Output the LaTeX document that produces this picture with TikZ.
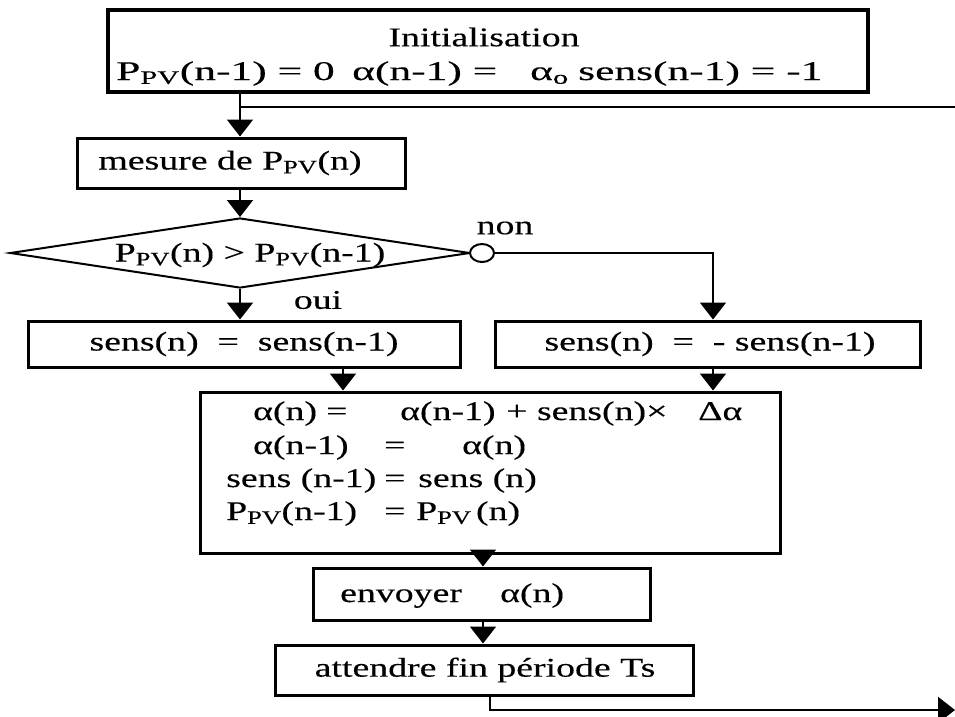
\documentclass[tikz,border=0pt]{standalone}
\usepackage{fontspec}
\setmainfont{Liberation Serif}[FakeStretch=1.4,FakeBold=0.3]
\usetikzlibrary{shapes.geometric,arrows.meta}
\newcommand\Ppv{P\textsubscript{PV}}
\begin{document}
\begin{tikzpicture}[x=1pt,y=-1pt,line join=miter,
  box/.style={draw,line width=3pt,inner sep=0pt},
  conn/.style={line width=2pt},
  arr/.style={conn,-{Triangle[width=26pt,length=17pt]}},
  txt/.style={font=\fontsize{27}{32}\selectfont,inner sep=0pt,anchor=base west},
  ctxt/.style={font=\fontsize{27}{32}\selectfont,inner sep=0pt}]
\useasboundingbox (0,0) rectangle (955,716);
% boxes
\node[box,line width=4pt,minimum width=760,minimum height=82] (init) at (488,51) {};
\node[box,minimum width=328,minimum height=50] (mesure) at (241,163) {};
\node[diamond,draw,conn,minimum width=460,minimum height=70,inner sep=0pt] (test) at (240,253) {};
\node[ellipse,draw,conn,fill=white,minimum width=24,minimum height=18,inner sep=0pt] (nonc) at (482,253) {};
\node[box,minimum width=432,minimum height=46] (left) at (244,344) {};
\node[box,minimum width=425,minimum height=46] (right) at (707.5,344) {};
\node[box,minimum width=580,minimum height=161] (big) at (490,472.5) {};
\node[box,minimum width=337,minimum height=52] (env) at (481.5,594) {};
\node[box,minimum width=418,minimum height=50] (att) at (484,670) {};
% texts
\node[ctxt] (t0) at (484,37) {Initialisation};
\node[txt] (t1) at (116,80) {\scalebox{1.15}[1]{\Ppv(n-1) = 0}};
\node[txt] (t2) at (352,80) {\scalebox{1.15}[1]{α(n-1) =}};
\node[txt] (t3) at (530,80) {\scalebox{1.15}[1]{α\textsubscript{o}}};
\node[txt] (t4) at (578,80) {\scalebox{1.15}[1]{sens(n-1) = -1}};
\node[ctxt] (tm) at (230,163) {mesure de \Ppv(n)};
\node[ctxt] (td) at (250,255) {\Ppv(n) > \Ppv(n-1)};
\node[ctxt] (tnon) at (505,228) {non};
\node[ctxt] (toui) at (318,300) {oui};
\node[ctxt] (tl) at (244,344) {sens(n)\ \ =\ \ sens(n-1)};
\node[ctxt] (tr) at (710,344) {sens(n)\ \ =\ \ - sens(n-1)};
\node[txt] (b1a) at (253,420) {α(n)};
\node[txt] (b1e) at (326,420) {=};
\node[txt] (b1b) at (400,420) {α(n-1)};
\node[txt] (b1c) at (506,420) {+ sens(n)×};
\node[txt] (b1d) at (698,420) {Δα};
\node[txt] (b2a) at (253,454) {α(n-1)};
\node[txt] (b2b) at (384,454) {=};
\node[txt] (b2c) at (462,454) {α(n)};
\node[txt] (b3a) at (226,487) {sens (n-1)};
\node[txt] (b3b) at (384,487) {=};
\node[txt] (b3c) at (418,487) {sens (n)};
\node[txt] (b4a) at (226,520) {\Ppv(n-1)};
\node[txt] (b4b) at (384,520) {=};
\node[txt] (b4c) at (416,520) {\Ppv\,(n)};
\node[txt] (te1) at (340,602) {envoyer};
\node[txt] (te2) at (500,602) {α(n)};
\node[ctxt] (ta) at (485,670) {attendre fin période Ts};
% connectors
\coordinate (xa) at (240,0);
\coordinate (xl) at (343,0);
\coordinate (xr) at (713,0);
\coordinate (xm) at (483,0);
\coordinate (xb) at (490,0);
\coordinate (loopT) at (955,107);
\coordinate (loopB) at (955,710);
\draw[arr] (init.south -| xa) -- (mesure.north -| xa);
\draw[conn] (xa |- loopT) -- (loopT);
\draw[arr] (mesure.south -| xa) -- (test.north);
\draw[arr] (test.south) -- (left.north -| test.south);
\draw[arr] (nonc.east) -| (right.north -| xr);
\draw[arr] (left.south -| xl) -- (big.north -| xl);
\draw[arr] (right.south -| xr) -- (big.north -| xr);
\draw[arr] (big.south -| xm) -- (env.north -| xm);
\draw[arr] (env.south -| xm) -- (att.north -| xm);
\draw[arr] (att.south -| xb) |- (loopB);
\end{tikzpicture}
\end{document}
